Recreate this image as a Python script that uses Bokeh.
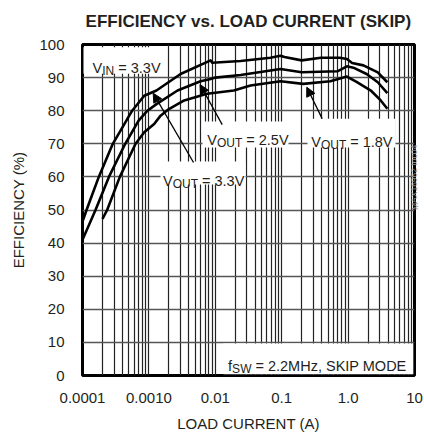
from bokeh.plotting import figure
from bokeh.models import FixedTicker, Label, Arrow, NormalHead, Range1d, LinearAxis
from bokeh.embed import file_html
from bokeh.resources import INLINE

# ---- data ----
cur_33 = [0.0001, 0.000115, 0.000176, 0.000286, 0.00056, 0.00085, 0.0013, 0.003,
          0.0085, 0.009, 0.024, 0.0675, 0.096, 0.11, 0.2, 0.39, 0.75, 0.96, 1.15,
          1.7, 2.8, 3.9]
eff_33 = [46.5, 50, 60, 70, 80, 84.5, 86.1, 91.1,
          95.2, 94.5, 95.0, 96.0, 96.6, 96.2, 95.2, 96.0, 96.0, 95.6, 94.4,
          93.7, 91.6, 88.6]

cur_25 = [0.0001, 0.000157, 0.00025, 0.00044, 0.0007, 0.00095, 0.0013, 0.0027,
          0.006, 0.0085, 0.01, 0.024, 0.096, 0.2, 0.69, 0.96, 1.2, 1.9, 2.8, 3.9]
eff_25 = [41, 50, 60, 70, 77, 80, 82, 86.1,
          88.9, 89.6, 90.0, 90.8, 92.6, 91.6, 91.9, 93.4, 93.0, 91.1, 88.6, 85.3]

cur_18 = [0.0002, 0.000235, 0.000365, 0.00063, 0.00085, 0.0012, 0.0015, 0.002,
          0.0033, 0.0075, 0.019, 0.034, 0.096, 0.21, 0.54, 0.96, 1.36, 2.2, 3.1, 3.9]
eff_18 = [47.3, 50, 60, 70, 73.5, 76, 78.5, 80.5,
          83.0, 85.1, 86.1, 87.6, 88.9, 88.1, 88.9, 90.3, 88.6, 86.1, 83.1, 80.6]

x_major = [0.0001, 0.001, 0.01, 0.1, 1.0, 10.0]
x_labels = ["0.0001", "0.0010", "0.01", "0.1", "1.0", "10"]
x_minor = [m * d for d in [0.0001, 0.001, 0.01, 0.1, 1.0] for m in range(2, 10)]
y_ticks = [0, 10, 20, 30, 40, 50, 60, 70, 80, 90, 100]

FONT = "Liberation Sans"
INK = "#231f20"
NBSP = "\u00a0"

p = figure(x_axis_type="log", x_range=Range1d(1e-4, 10), y_range=Range1d(0, 100),
           frame_width=332, frame_height=331,
           min_border_left=82, min_border_right=0, min_border_top=44, min_border_bottom=64,
           output_backend="svg", toolbar_location=None,
           background_fill_color="white", border_fill_color="white")

p.title.text = "EFFICIENCY vs. LOAD CURRENT (SKIP)"
p.title.align = "center"
p.title.vertical_align = "top"
p.title.text_font = FONT
p.title.text_font_size = "17px"
p.title.text_font_style = "bold"
p.title.text_color = INK
p.title.standoff = 23

p.outline_line_color = "black"
p.outline_line_width = 3

xax = p.xaxis[0]
yax = p.yaxis[0]
x_ticker = FixedTicker(ticks=x_major, minor_ticks=x_minor)
y_ticker = FixedTicker(ticks=y_ticks)
xax.ticker = x_ticker
xax.major_label_overrides = {v: s for v, s in zip(x_major, x_labels)}
yax.ticker = y_ticker
for ax in (xax, yax):
    ax.axis_line_color = None
    ax.major_tick_line_color = None
    ax.minor_tick_line_color = None
    ax.major_tick_out = 0
    ax.major_tick_in = 0
    ax.minor_tick_out = 0
    ax.major_label_text_font = FONT
    ax.major_label_text_font_size = "15px"
    ax.major_label_text_color = INK
    ax.axis_label_text_font = FONT
    ax.axis_label_text_font_size = "15px"
    ax.axis_label_text_font_style = "normal"
    ax.axis_label_text_color = INK
xax.axis_label = "LOAD CURRENT (A)"
yax.axis_label = "EFFICIENCY (%)"
xax.major_label_standoff = 17
xax.axis_label_standoff = 9
yax.major_label_standoff = 18
yax.axis_label_standoff = 9

p.xgrid.ticker = x_ticker
p.xgrid.grid_line_color = "#222222"
p.xgrid.grid_line_width = 1.2
p.xgrid.minor_grid_line_color = "#222222"
p.xgrid.minor_grid_line_width = 1.2
p.ygrid.ticker = y_ticker
p.ygrid.grid_line_color = "#555555"
p.ygrid.grid_line_width = 1.5

# chart id, vertical text at the right edge (carried by an empty right axis)
rax = LinearAxis(ticker=FixedTicker(ticks=[]), axis_label="MAX16962 toc04",
                 axis_line_color=None, major_tick_line_color=None,
                 minor_tick_line_color=None, major_tick_out=0, major_tick_in=0,
                 minor_tick_out=0, major_label_standoff=0, axis_label_standoff=0,
                 axis_label_text_font=FONT, axis_label_text_font_size="8.5px",
                 axis_label_text_color="#8a8a8a", axis_label_text_font_style="normal")
if "axis_label_orientation" in LinearAxis.properties():
    rax.axis_label_orientation = 1.5708
p.add_layout(rax, "right")

# white boxes behind annotation texts (cover the grid)
box_left = [1.035e-4, 0.00642, 0.2447, 0.001495, 0.01328]
box_right = [1.84e-3, 0.1266, 5.17, 0.0285, 9.6]
box_bottom = [91.2, 68.9, 68.9, 57.7, 0.4]
box_top = [99.2, 76.7, 77.6, 64.65, 9.67]
p.quad(left=box_left, right=box_right, bottom=box_bottom, top=box_top,
       fill_color="white", line_color=None)

for cur, eff in ((cur_33, eff_33), (cur_25, eff_25), (cur_18, eff_18)):
    p.line(cur, eff, line_color="black", line_width=2.6, line_join="round")

# arrows
arrows = [((0.0047, 64.35), (0.00116, 85.3)),
          ((0.0127, 75.8), (0.00589, 87.9)),
          ((0.407, 77.6), (0.2388, 87.1))]
for (xs, ys), (xe, ye) in arrows:
    p.add_layout(Arrow(end=NormalHead(size=9, fill_color="black", line_color="black"),
                       x_start=xs, y_start=ys, x_end=xe, y_end=ye,
                       line_color="black", line_width=1.3))


def add_text(x, y, text, size="14.5px", x_off=0, y_off=0, **kw):
    p.add_layout(Label(x=x, y=y, text=text, x_offset=x_off, y_offset=y_off,
                       text_font=FONT, text_font_size=size, text_color=INK,
                       text_baseline="alphabetic", **kw))


# V_IN = 3.3V
add_text(1.415e-4, 93.05, "V")
add_text(1.415e-4, 93.05, "IN", size="12px", x_off=9.7, y_off=-3)
add_text(1.415e-4, 93.05, NBSP + "= 3.3V", x_off=21.7)
# V_OUT = 2.5V
add_text(0.00755, 71.0, "V")
add_text(0.00755, 71.0, "OUT", size="12px", x_off=9.7, y_off=-3)
add_text(0.00755, 71.0, NBSP + "= 2.5V", x_off=35.0)
# V_OUT = 1.8V
add_text(0.278, 70.4, "V")
add_text(0.278, 70.4, "OUT", size="12px", x_off=9.7, y_off=-3)
add_text(0.278, 70.4, NBSP + "= 1.8V", x_off=35.0)
# V_OUT = 3.3V
add_text(0.00163, 58.9, "V")
add_text(0.00163, 58.9, "OUT", size="12px", x_off=9.7, y_off=-3)
add_text(0.00163, 58.9, NBSP + "= 3.3V", x_off=35.0)
# f_SW = 2.2MHz, SKIP MODE
add_text(0.0156, 3.0, "f")
add_text(0.0156, 3.0, "SW", size="12px", x_off=4.0, y_off=-3)
add_text(0.0156, 3.0, NBSP + "= 2.2MHz, SKIP MODE", x_off=23.3)

open("out.html", "w").write(file_html(p, INLINE))
